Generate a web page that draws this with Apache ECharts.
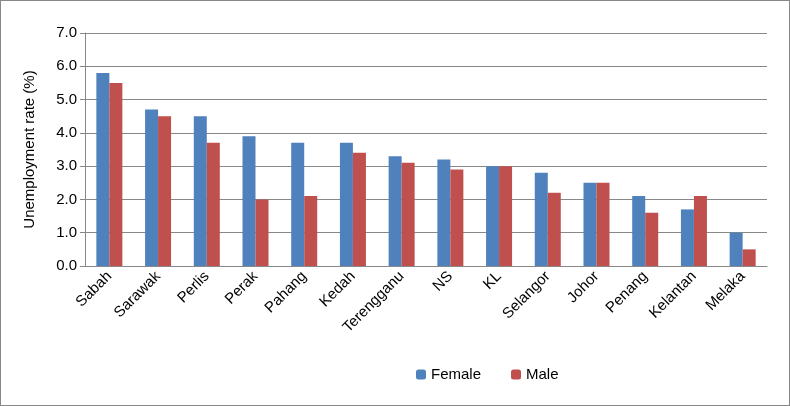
<!DOCTYPE html>
<html><head><meta charset="utf-8">
<script src="https://cdn.jsdelivr.net/npm/echarts@6/dist/echarts.min.js"></script>
<style>html,body{margin:0;padding:0;background:#fff}#c{width:790px;height:406px;box-sizing:border-box;border:1px solid #888}</style>
</head><body><div id="c"></div>
<script>
const categories=["Sabah","Sarawak","Perlis","Perak","Pahang","Kedah","Terengganu","NS","KL","Selangor","Johor","Penang","Kelantan","Melaka"];
const female=[5.8,4.7,4.5,3.9,3.7,3.7,3.3,3.2,3.0,2.8,2.5,2.1,1.7,1.0];
const male=[5.5,4.5,3.7,2.0,2.1,3.4,3.1,2.9,3.0,2.2,2.5,1.6,2.1,0.5];
const f="Liberation Sans";
const chart=echarts.init(document.getElementById('c'));
chart.setOption({
 animation:false,
 textStyle:{fontFamily:f},
 grid:{left:84,right:22,top:32,bottom:139},
 legend:{bottom:18,left:410,itemWidth:10,itemHeight:10,itemGap:30,textStyle:{fontSize:15,color:'#000'},data:['Female','Male']},
 xAxis:{type:'category',data:categories,axisTick:{show:false},axisLine:{lineStyle:{color:'#888'}},
   axisLabel:{rotate:45,fontSize:15,color:'#000',margin:8,interval:0}},
 yAxis:{type:'value',min:0,max:7,interval:1,name:'Unemployment rate (%)',nameLocation:'middle',nameGap:48,
   nameTextStyle:{fontSize:15,color:'#000'},
   axisLabel:{formatter:v=>v.toFixed(1),fontSize:15,color:'#000'},
   axisLine:{show:true,lineStyle:{color:'#888'}},axisTick:{show:true,lineStyle:{color:'#888'}},
   splitLine:{lineStyle:{color:'#888'}}},
 series:[
  {name:'Female',type:'bar',data:female,barWidth:13,barGap:'0%',itemStyle:{color:'#4F81BD'}},
  {name:'Male',type:'bar',data:male,barWidth:13,itemStyle:{color:'#C0504D'}}
 ]
});
</script></body></html>
